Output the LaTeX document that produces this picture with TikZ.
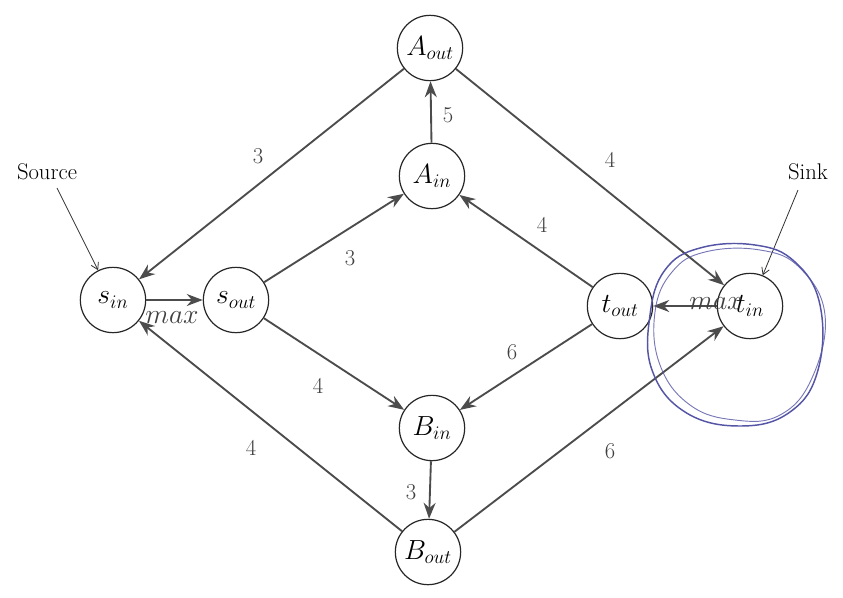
\documentclass[tikz,border=0pt]{standalone}
\usetikzlibrary{arrows.meta}
\begin{document}
\begin{tikzpicture}[x=0.75pt,y=-0.75pt,
  every node/.style={font=\fontsize{17}{20}\selectfont},
  vert/.style={circle,draw=black!85,line width=0.9pt,minimum size=49pt,inner sep=0pt,font=\fontsize{21}{24}\selectfont},
  edge/.style={draw=black!70,line width=1.4pt,-{Stealth[length=12pt,width=9pt]}},
  thin/.style={draw=black!80,line width=0.6pt,-{Straight Barb[length=5pt,width=6pt]}},
  lab/.style={text=black!75,inner sep=1pt},
  mlab/.style={text=black!75,inner sep=1pt,font=\fontsize{20}{24}\selectfont},
  hand/.style={draw={rgb,255:red,85;green,85;blue,165},line width=1.1pt}]
\useasboundingbox (0,0) rectangle (843,597);
% vertices
\node[vert] (Aout) at (430,48) {$A_{out}$};
\node[vert] (Ain) at (432,176) {$A_{in}$};
\node[vert] (sin) at (113,300) {$s_{in}$};
\node[vert] (sout) at (236,300) {$s_{out}$};
\node[vert] (tout) at (620,306) {$t_{out}$};
\node[vert] (tin) at (750,306) {$t_{in}$};
\node[vert] (Bin) at (432,428) {$B_{in}$};
\node[vert] (Bout) at (428,552) {$B_{out}$};
% source / sink
\node (source) at (47,172) {Source};
\node (sink) at (808,172) {Sink};
\coordinate (srcstart) at (57,188);
\coordinate (sinkstart) at (798,190);
\draw[thin] (srcstart) -- (sin);
\draw[thin] (sinkstart) -- (tin);
% edges
\draw[edge] (Aout) -- (sin);
\draw[edge] (Ain) -- (Aout);
\draw[edge] (Aout) -- (tin);
\draw[edge] (sout) -- (Ain);
\draw[edge] (tout) -- (Ain);
\draw[edge] (sin) -- (sout);
\draw[edge] (tin) -- (tout);
\draw[edge] (sout) -- (Bin);
\draw[edge] (tout) -- (Bin);
\draw[edge] (Bout) -- (sin);
\draw[edge] (Bin) -- (Bout);
\draw[edge] (Bout) -- (tin);
% labels
\node[lab] (l1) at (258,156) {3};
\node[lab] (l2) at (448,115) {5};
\node[lab] (l3) at (610,160) {4};
\node[lab] (l4) at (350,258) {3};
\node[lab] (l5) at (542,225) {4};
\node[mlab] (l6) at (172,318) {$max$};
\node[mlab] (l7) at (716,304) {$max$};
\node[lab] (l8) at (318,386) {4};
\node[lab] (l9) at (512,352) {6};
\node[lab] (l10) at (251,448) {4};
\node[lab] (l11) at (411,492) {3};
\node[lab] (l12) at (610,451) {6};
% hand-drawn circle
\draw[hand] plot[smooth cycle,tension=0.7] coordinates {(700,248) (755,245) (795,262) (820,305) (818,370) (790,412) (740,426) (685,412) (652,370) (650,315) (665,270)};
\draw[hand,line width=0.7pt,opacity=0.8] plot[smooth cycle,tension=0.7] coordinates {(705,252) (760,250) (800,268) (825,315) (812,378) (780,415) (735,420) (690,405) (660,365) (655,312) (672,272)};
\end{tikzpicture}
\end{document}
